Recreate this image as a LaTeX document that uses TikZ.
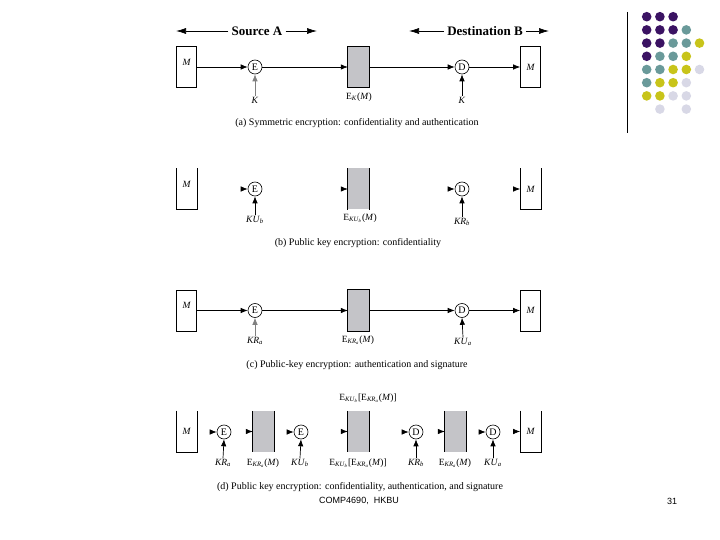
\documentclass[tikz,border=0pt]{standalone}
\usepackage{fontspec}
\setmainfont{Liberation Serif}
\newfontfamily\footfont{Liberation Sans}
\usetikzlibrary{arrows.meta}
\definecolor{boxgray}{RGB}{196,196,200}
\definecolor{dpurple}{HTML}{3B1363}
\definecolor{dteal}{HTML}{6A9A9A}
\definecolor{dyellow}{HTML}{C8C41A}
\definecolor{dlav}{HTML}{D8D8E6}
\newcommand\sbx[1]{\textsubscript{#1}}
\newcommand\tEKUb{E\sbx{\textit{KU}\sbx{\textit{b}}}}
\newcommand\tEKRa{E\sbx{\textit{KR}\sbx{\textit{a}}}}
\tikzset{
  mbox/.style={minimum width=20pt, minimum height=41pt, inner sep=0pt, line width=0.7pt},
  gbox/.style={fill=boxgray, minimum width=21pt, minimum height=41pt, inner sep=0pt},
  gside/.style={line width=0.9pt},
  op/.style={circle, draw, line width=0.6pt, minimum size=14pt, inner sep=0pt, font=\fontsize{10}{10}\selectfont},
  lbl/.style={font=\fontsize{9.5}{10}\selectfont, inner sep=1pt},
  mlbl/.style={font=\fontsize{9.5}{10}\selectfont\itshape},
  captxt/.style={font=\fontsize{10}{11}\selectfont, inner sep=0pt},
  hdr/.style={font=\fontsize{13}{14}\selectfont\bfseries, inner sep=3pt},
  foot/.style={font=\footfont\fontsize{9}{10}\selectfont, inner sep=0pt},
  arr/.style={-{Latex[length=7pt,width=5.5pt]}, line width=0.7pt},
  hdrarr/.style={-{Latex[length=10pt,width=6pt]}, line width=0.7pt},
  dot/.style={circle, minimum size=9.6pt, inner sep=0pt},
}
\begin{document}
\begin{tikzpicture}[x=1pt,y=-1pt]
\useasboundingbox (0,0) rectangle (720,540);

% ---------- decoration ----------
\coordinate (vt) at (627.3,12);
\coordinate (vb) at (627.3,133);
\draw[line width=0.8pt] (vt) -- (vb);
\foreach \c/\r/\col in {0/0/dpurple,1/0/dpurple,2/0/dpurple,
  0/1/dpurple,1/1/dpurple,2/1/dpurple,3/1/dteal,
  0/2/dpurple,1/2/dpurple,2/2/dteal,3/2/dteal,4/2/dyellow,
  0/3/dpurple,1/3/dteal,2/3/dteal,3/3/dyellow,
  0/4/dteal,1/4/dteal,2/4/dyellow,3/4/dyellow,4/4/dlav,
  0/5/dteal,1/5/dyellow,2/5/dyellow,3/5/dlav,
  0/6/dyellow,1/6/dyellow,2/6/dlav,3/6/dlav,
  1/7/dlav,3/7/dlav}
  \node[dot, fill=\col] (dot-\c-\r) at (646.7+13.2*\c, 16.7+13.2*\r) {};

% ---------- headers ----------
\node[hdr] (srcA) at (257,31) {Source A};
\coordinate (srcL) at (176,31);
\coordinate (srcR) at (317,31);
\draw[hdrarr] (srcA.west) -- (srcL);
\draw[hdrarr] (srcA.east) -- (srcR);
\node[hdr] (dstB) at (485,31) {Destination B};
\coordinate (dstL) at (409,31);
\coordinate (dstR) at (549,31);
\draw[hdrarr] (dstB.west) -- (dstL);
\draw[hdrarr] (dstB.east) -- (dstR);

% ---------- (a) ----------
\node[mbox,draw] (a-m1) at (186.5,67) {};
\node[mlbl] (a-mt1) at (186.5,62) {M};
\node[op] (a-e) at (255,67) {E};
\node[gbox] (a-g) at (358.5,67) {};
\draw[gside] (a-g.north west) rectangle (a-g.south east);
\node[op] (a-d) at (462,67) {D};
\node[mbox,draw,mlbl] (a-m2) at (530.5,67) {M};
\draw[arr] (a-m1) -- (a-e);
\draw[arr] (a-e) -- (a-g);
\draw[arr] (a-g) -- (a-d);
\draw[arr] (a-d) -- (a-m2);
\node[lbl] (a-k1) at (255,100) {\textit{K}};
\node[lbl] (a-gl) at (359,97) {E\sbx{\textit{K}}(\textit{M})};
\node[lbl] (a-k2) at (462,100) {\textit{K}};
\draw[arr,draw=gray] (a-k1.north) -- (a-e.south);
\draw[arr] (a-k2.north) -- (a-d.south);
\node[captxt] (a-cap) at (357,123) {(a) Symmetric encryption: confidentiality and authentication};

% ---------- (b) ----------
\node[mbox] (b-m1) at (186.5,189) {};
\draw[line width=0.7pt] (b-m1.north west) -- (b-m1.south west) -- (b-m1.south east) -- (b-m1.north east);
\node[mlbl] (b-mt1) at (186.5,184) {M};
\node[op] (b-e) at (255,189) {E};
\node[gbox] (b-g) at (358.5,189) {};
\draw[gside] (b-g.north west) -- (b-g.south west) (b-g.north east) -- (b-g.south east);
\node[op] (b-d) at (462,189) {D};
\node[mbox,mlbl] (b-m2) at (530.5,189) {M};
\draw[line width=0.7pt] (b-m2.north west) -- (b-m2.south west) -- (b-m2.south east) -- (b-m2.north east);
\draw[arr] ([xshift=-7pt]b-e.west) -- (b-e.west);
\draw[arr] ([xshift=-7pt]b-g.west) -- (b-g.west);
\draw[arr] ([xshift=-7pt]b-d.west) -- (b-d.west);
\draw[arr] ([xshift=-7pt]b-m2.west) -- (b-m2.west);
\node[lbl] (b-k1) at (255,220) {\textit{KU}\sbx{\textit{b}}};
\node[lbl] (b-gl) at (360,218) {\tEKUb(\textit{M})};
\node[lbl] (b-k2) at (462,222) {\textit{KR}\sbx{\textit{b}}};
\draw[arr] (b-k1.north) -- (b-e.south);
\draw[arr] (b-k2.north) -- (b-d.south);
\node[captxt] (b-cap) at (358,243) {(b) Public key encryption: confidentiality};

% ---------- (c) ----------
\node[mbox,draw] (c-m1) at (186.5,310.5) {};
\node[mlbl] (c-mt1) at (186.5,305.5) {M};
\node[op] (c-e) at (255,310.5) {E};
\node[gbox] (c-g) at (358.5,310.5) {};
\draw[gside] (c-g.north west) rectangle (c-g.south east);
\node[op] (c-d) at (462,310.5) {D};
\node[mbox,draw,mlbl] (c-m2) at (530.5,310.5) {M};
\draw[arr] (c-m1) -- (c-e);
\draw[arr] (c-e) -- (c-g);
\draw[arr] (c-g) -- (c-d);
\draw[arr] (c-d) -- (c-m2);
\node[lbl] (c-k1) at (255,341) {\textit{KR}\sbx{\textit{a}}};
\node[lbl] (c-gl) at (358,340) {\tEKRa(\textit{M})};
\node[lbl] (c-k2) at (463,342) {\textit{KU}\sbx{\textit{a}}};
\draw[arr,draw=gray] (c-k1.north) -- (c-e.south);
\draw[arr] (c-k2.north) -- (c-d.south);
\node[captxt] (c-cap) at (357,365) {(c) Public-key encryption: authentication and signature};

% ---------- (d) ----------
\node[mbox] (d-m1) at (186.5,431.5) {};
\draw[line width=0.7pt] (d-m1.north west) -- (d-m1.south west) -- (d-m1.south east) -- (d-m1.north east);
\node[mlbl] (d-mt1) at (186.5,431) {M};
\node[op] (d-e1) at (224,432) {E};
\node[gbox] (d-g1) at (263.5,431.5) {};
\draw[gside] (d-g1.north west) -- (d-g1.south west) (d-g1.north east) -- (d-g1.south east);
\node[op] (d-e2) at (301,432) {E};
\node[gbox] (d-g2) at (358.5,431.5) {};
\draw[gside] (d-g2.north west) -- (d-g2.south west) (d-g2.north east) -- (d-g2.south east);
\node[op] (d-d1) at (416,432) {D};
\node[gbox] (d-g3) at (455.5,431.5) {};
\draw[gside] (d-g3.north west) -- (d-g3.south west) (d-g3.north east) -- (d-g3.south east);
\node[op] (d-d2) at (493,432) {D};
\node[mbox,mlbl] (d-m2) at (530.5,431.5) {M};
\draw[line width=0.7pt] (d-m2.north west) -- (d-m2.south west) -- (d-m2.south east) -- (d-m2.north east);
\foreach \n in {d-e1,d-g1,d-e2,d-g2,d-d1,d-g3,d-d2,d-m2}
  \draw[arr] ([xshift=-7pt]\n.west) -- (\n.west);
\node[lbl] (d-top) at (368,398) {\tEKUb[\tEKRa(\textit{M})]};
\node[lbl] (d-k1) at (223,463) {\textit{KR}\sbx{\textit{a}}};
\node[lbl] (d-l1) at (263,463) {\tEKRa(\textit{M})};
\node[lbl] (d-k2) at (300,463) {\textit{KU}\sbx{\textit{b}}};
\node[lbl] (d-l2) at (358,463) {\tEKUb[\tEKRa(\textit{M})]};
\node[lbl] (d-k3) at (416,463) {\textit{KR}\sbx{\textit{b}}};
\node[lbl] (d-l3) at (455,463) {\tEKRa(\textit{M})};
\node[lbl] (d-k4) at (493,463) {\textit{KU}\sbx{\textit{a}}};
\draw[arr] (d-k1.north) -- (d-e1.south);
\draw[arr] (d-k2.north) -- (d-e2.south);
\draw[arr] (d-k3.north) -- (d-d1.south);
\draw[arr] (d-k4.north) -- (d-d2.south);
\node[captxt] (d-cap) at (360,487) {(d) Public key encryption: confidentiality, authentication, and signature};

% ---------- footer ----------
\node[foot] (ft) at (359,501) {COMP4690,\ \ HKBU};
\node[foot] (pg) at (672,501) {31};
\end{tikzpicture}
\end{document}
